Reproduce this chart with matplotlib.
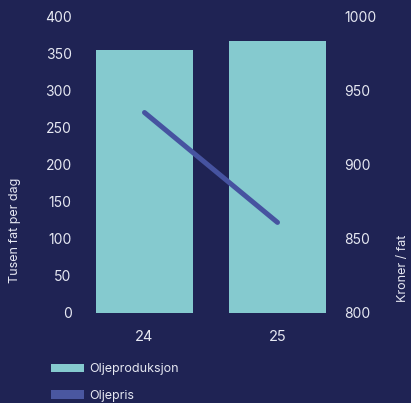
import matplotlib
matplotlib.use('Agg')
import matplotlib.pyplot as plt
from matplotlib.patches import Patch

plt.rcParams['font.family'] = ['Inter', 'DejaVu Sans']

# data
years = ['24', '25']
produksjon = [354, 366]      # tusen fat per dag
oljepris = [935, 861]        # kroner / fat

bg = '#1f2354'
bar_col = '#85cacf'
line_col = '#4653a0'
txt = '#e6e8f2'

W, H = 411, 403
fig = plt.figure(figsize=(W / 100, H / 100), dpi=100, facecolor=bg)

# axes in pixel coords
left, right, top, bottom = 80, 340, 16, 313
ax = fig.add_axes([left / W, (H - bottom) / H, (right - left) / W, (bottom - top) / H])
ax.set_facecolor(bg)

x = list(range(len(years)))
ax.bar(x, produksjon, width=0.73, color=bar_col, zorder=1)
ax.set_xlim(-(144.5 - left) / 133, 1 + (right - 277.5) / 133)
ax.set_ylim(0, 400)
ax.set_yticks(range(0, 401, 50))
ax.set_xticks(x)
ax.set_xticklabels(years)

ax2 = ax.twinx()
ax2.plot(x, oljepris, color=line_col, linewidth=3.6, solid_capstyle='round', zorder=3)
ax2.set_ylim(800, 1000)
ax2.set_yticks(range(800, 1001, 50))

for a in (ax, ax2):
    for s in a.spines.values():
        s.set_visible(False)
    a.tick_params(length=0, colors=txt, labelsize=10)
ax.tick_params(axis='y', pad=6)
ax.tick_params(axis='x', pad=12, labelsize=10.5)
ax2.tick_params(axis='y', pad=3)

fig.text(15 / W, (H - 283) / H, 'Tusen fat per dag', rotation=90, ha='center', va='bottom',
         color=txt, fontsize=9)
fig.text(403 / W, (H - 302) / H, 'Kroner / fat', rotation=90, ha='center', va='bottom',
         color=txt, fontsize=9)

handles = [Patch(facecolor=bar_col, edgecolor='none'),
           Patch(facecolor='#4a57a0', edgecolor='none')]
leg = fig.legend(handles, ['Oljeproduksjon', 'Oljepris'], loc='upper left',
                 bbox_to_anchor=(40 / W, (H - 352) / H), frameon=False,
                 fontsize=9, labelcolor=txt, handlelength=2.6, handleheight=0.7,
                 handletextpad=0.4, labelspacing=1.15)

fig.savefig('out.png', dpi=100, facecolor=bg)
